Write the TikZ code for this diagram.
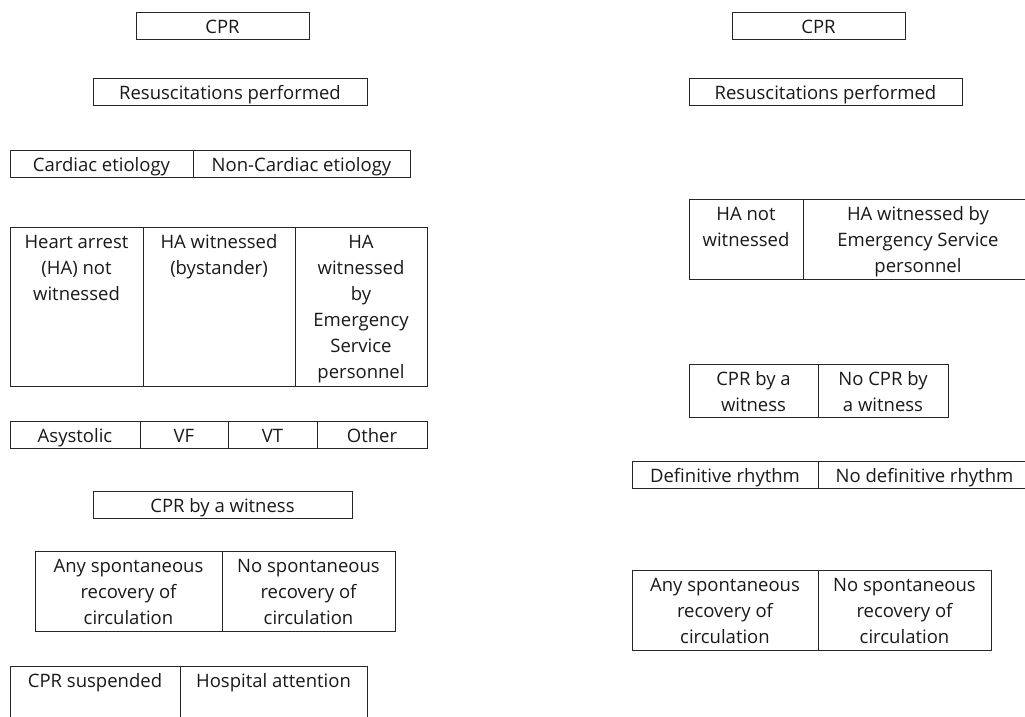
\documentclass[tikz,border=0pt]{standalone}
\usepackage{fontspec}
\setmainfont{Open Sans}
\newcommand\mycell[6]{%
  \node[cellframe, minimum width={(#4-#2)*1pt}, minimum height={(#5-#3)*1pt}, anchor=north west] (#1) at (#2,#3) {};
  \node[celltext, anchor=north, yshift=-4pt] (#1t) at (#1.north) {\rule{0pt}{17pt}#6};
}
\begin{document}
\begin{tikzpicture}[x=1pt,y=-1pt,
  cellframe/.style={draw=black!85, line width=1pt, rectangle, inner sep=0pt, outer sep=0pt},
  celltext/.style={inner sep=0pt, align=center, text=black!90, font=\fontsize{18.5}{26}\selectfont}]
\path[use as bounding box] (0,0) rectangle (1025,716);
\clip (0,0) rectangle (1025,716);
% left column
\mycell{lcpr}{136}{12}{309}{39}{CPR}
\mycell{lres}{93}{78}{367}{105}{Resuscitations performed}
\mycell{lcard}{10}{150}{193}{177}{Cardiac etiology}
\mycell{lnoncard}{193}{150}{410}{177}{Non-Cardiac etiology}
\mycell{lhanot}{10}{227}{143}{386}{Heart arrest\\(HA) not\\witnessed}
\mycell{lhabys}{143}{227}{295}{386}{HA witnessed\\(bystander)}
\mycell{lhaems}{295}{227}{427}{386}{HA\\witnessed\\by\\Emergency\\Service\\personnel}
\mycell{lasy}{10}{421}{140}{448}{Asystolic}
\mycell{lvf}{140}{421}{228}{448}{VF}
\mycell{lvt}{228}{421}{317}{448}{VT}
\mycell{loth}{317}{421}{427}{448}{Other}
\mycell{lcprw}{93}{491}{352}{518}{CPR by a witness}
\mycell{lany}{35}{551}{222}{631}{Any spontaneous\\recovery of\\circulation}
\mycell{lno}{222}{551}{395}{631}{No spontaneous\\recovery of\\circulation}
\mycell{lsusp}{10}{666}{180}{740}{CPR suspended}
\mycell{lhosp}{180}{666}{367}{740}{Hospital attention}
% right column
\mycell{rcpr}{732}{12}{905}{39}{CPR}
\mycell{rres}{689}{78}{962}{105}{Resuscitations performed}
\mycell{rhanot}{689}{199}{803}{279}{HA not\\witnessed}
\mycell{rhaems}{803}{199}{1033}{279}{HA witnessed by\\Emergency Service\\personnel}
\mycell{rcprw}{689}{364}{818}{417}{CPR by a\\witness}
\mycell{rnocpr}{818}{364}{948}{417}{No CPR by\\a witness}
\mycell{rdef}{632}{461}{818}{488}{Definitive rhythm}
\mycell{rnodef}{818}{461}{1031}{488}{No definitive rhythm}
\mycell{rany}{632}{570}{818}{650}{Any spontaneous\\recovery of\\circulation}
\mycell{rno}{818}{570}{991}{650}{No spontaneous\\recovery of\\circulation}
\end{tikzpicture}
\end{document}
